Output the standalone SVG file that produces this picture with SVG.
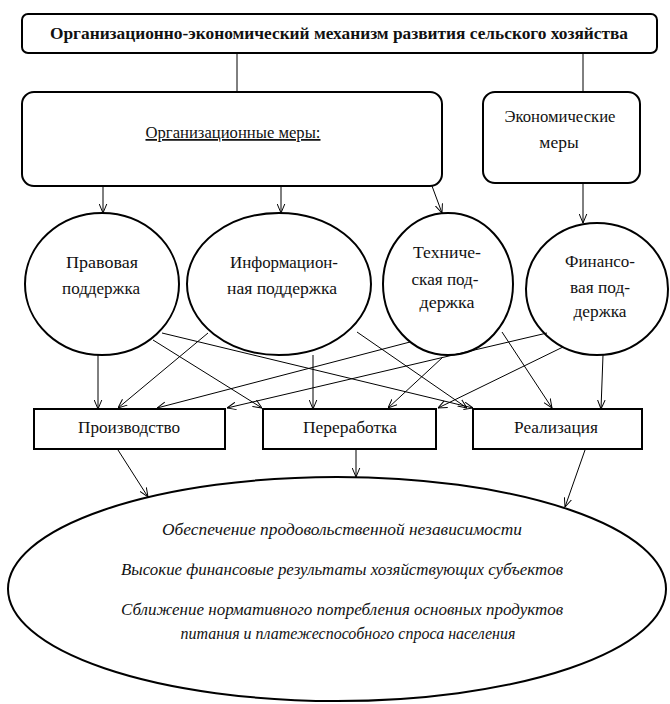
<svg xmlns="http://www.w3.org/2000/svg" width="670" height="704" viewBox="0 0 670 704">
<style>
.box{fill:#fff;stroke:#000;stroke-width:2}
.t{font-family:"Liberation Serif","Times New Roman",serif;font-size:17.5px;fill:#111;text-anchor:middle}
.b{font-weight:bold;font-size:16px}
.i{font-style:italic;font-size:17px}
.c line{stroke:#000;stroke-width:1;fill:none}
.c .a{marker-end:url(#arr)}
</style>
<defs>
<marker id="arr" viewBox="0 0 10 10" refX="10" refY="5" markerWidth="9" markerHeight="9" orient="auto" markerUnits="userSpaceOnUse">
<path d="M0,0.8 L10,5 L0,9.2" fill="none" stroke="#000" stroke-width="1.1"/>
</marker>
</defs>
<rect width="670" height="704" fill="#fff"/>

<g id="title">
<rect class="box" x="22" y="14" width="635" height="39" rx="6"/>
<text class="t b" x="339" y="39" textLength="578" lengthAdjust="spacingAndGlyphs">Организационно-экономический механизм развития сельского хозяйства</text>
</g>

<g id="org">
<rect class="box" x="22" y="92" width="420" height="94" rx="12"/>
<text class="t" x="233" y="138" textLength="175" lengthAdjust="spacingAndGlyphs" text-decoration="underline">Организационные меры:</text>
</g>

<g id="econ">
<rect class="box" x="483" y="92" width="157" height="91" rx="12"/>
<text class="t" x="560" y="122" textLength="111" lengthAdjust="spacingAndGlyphs">Экономические</text>
<text class="t" x="559" y="148">меры</text>
</g>

<g id="legal">
<ellipse class="box" cx="102" cy="284" rx="77" ry="71"/>
<text class="t" x="102" y="268" textLength="72" lengthAdjust="spacingAndGlyphs">Правовая</text>
<text class="t" x="101" y="294" textLength="78" lengthAdjust="spacingAndGlyphs">поддержка</text>
</g>

<g id="info">
<ellipse class="box" cx="279" cy="284" rx="92" ry="71"/>
<text class="t" x="284" y="268" textLength="108" lengthAdjust="spacingAndGlyphs">Информацион-</text>
<text class="t" x="282" y="294" textLength="110" lengthAdjust="spacingAndGlyphs">ная поддержка</text>
</g>

<g id="tech">
<ellipse class="box" cx="448" cy="284" rx="65" ry="71"/>
<text class="t" x="447" y="258" textLength="68" lengthAdjust="spacingAndGlyphs">Техниче-</text>
<text class="t" x="445" y="285" textLength="67" lengthAdjust="spacingAndGlyphs">ская под-</text>
<text class="t" x="447" y="308" textLength="55" lengthAdjust="spacingAndGlyphs">держка</text>
</g>

<g id="fin">
<ellipse class="box" cx="597" cy="289" rx="71" ry="66"/>
<text class="t" x="600" y="267" textLength="70" lengthAdjust="spacingAndGlyphs">Финансо-</text>
<text class="t" x="600" y="293" textLength="60" lengthAdjust="spacingAndGlyphs">вая под-</text>
<text class="t" x="600" y="317" textLength="53" lengthAdjust="spacingAndGlyphs">держка</text>
</g>

<g id="prod">
<rect class="box" x="34" y="409" width="191" height="40"/>
<text class="t" x="129" y="433" textLength="102" lengthAdjust="spacingAndGlyphs">Производство</text>
</g>

<g id="proc">
<rect class="box" x="263" y="409" width="173" height="40"/>
<text class="t" x="350" y="433" textLength="94" lengthAdjust="spacingAndGlyphs">Переработка</text>
</g>

<g id="sale">
<rect class="box" x="473" y="409" width="169" height="40"/>
<text class="t" x="556" y="433" textLength="84" lengthAdjust="spacingAndGlyphs">Реализация</text>
</g>

<g id="result">
<ellipse class="box" cx="337" cy="589" rx="329" ry="112"/>
<text class="t i" x="342" y="535" textLength="360" lengthAdjust="spacingAndGlyphs">Обеспечение продовольственной независимости</text>
<text class="t i" x="342" y="575" textLength="442" lengthAdjust="spacingAndGlyphs">Высокие финансовые результаты хозяйствующих субъектов</text>
<text class="t i" x="342" y="615" textLength="442" lengthAdjust="spacingAndGlyphs">Сближение нормативного потребления основных продуктов</text>
<text class="t i" x="348" y="639" textLength="335" lengthAdjust="spacingAndGlyphs">питания и платежеспособного спроса населения</text>
</g>

<g id="connectors" class="c">
<line x1="237" y1="53" x2="237" y2="92"/>
<line x1="583" y1="53" x2="583" y2="92"/>
<line class="a" x1="103" y1="186" x2="103" y2="213"/>
<line class="a" x1="281" y1="186" x2="281" y2="213"/>
<line class="a" x1="432" y1="186" x2="442" y2="213"/>
<line class="a" x1="583" y1="183" x2="583" y2="223"/>
<line class="a" x1="98" y1="355" x2="98" y2="409"/>
<line class="a" x1="153" y1="340" x2="262" y2="408"/>
<line class="a" x1="162" y1="333" x2="473" y2="408"/>
<line class="a" x1="208" y1="333" x2="118" y2="408"/>
<line class="a" x1="313" y1="355" x2="313" y2="409"/>
<line class="a" x1="357" y1="332" x2="467" y2="408"/>
<line class="a" x1="410" y1="342" x2="157" y2="408"/>
<line class="a" x1="443" y1="357" x2="388" y2="408"/>
<line class="a" x1="502" y1="332" x2="552" y2="408"/>
<line class="a" x1="547" y1="333" x2="227" y2="408"/>
<line class="a" x1="563" y1="347" x2="438" y2="408"/>
<line class="a" x1="603" y1="355" x2="601" y2="409"/>
<line class="a" x1="118" y1="450" x2="148" y2="497"/>
<line class="a" x1="356" y1="450" x2="356" y2="477"/>
<line class="a" x1="585" y1="450" x2="565" y2="507"/>
</g>
</svg>
